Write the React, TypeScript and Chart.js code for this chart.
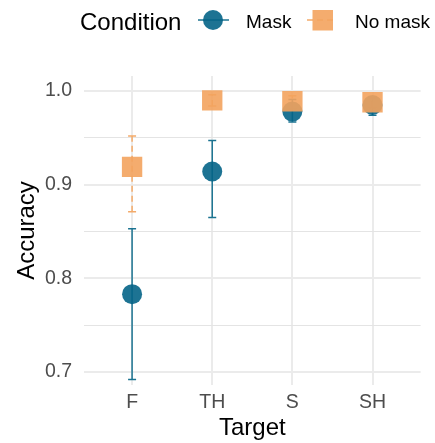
import React, { useEffect, useRef } from 'react';
import { Chart, registerables } from 'chart.js';

Chart.register(...registerables);

const categories = ['F', 'TH', 'S', 'SH'];
const maskMean = [0.783, 0.914, 0.978, 0.985];
const maskLow = [0.692, 0.865, 0.967, 0.974];
const maskHigh = [0.853, 0.947, 0.991, 0.993];
const noMaskMean = [0.919, 0.990, 0.989, 0.988];
const noMaskLow = [0.871, 0.984, 0.981, 0.982];
const noMaskHigh = [0.952, 0.996, 0.995, 0.993];
const yTicks = [0.7, 0.75, 0.8, 0.85, 0.9, 0.95, 1.0];

const FONT = "'Liberation Sans', Arial, Helvetica, sans-serif";
const MASK_COLOR = '#1B7391';
const NOMASK_COLOR = '#F4AA69';
const MASK_FILL = 'rgba(4,100,135,0.9)';
const NOMASK_FILL = 'rgba(243,163,94,0.9)';

const isMajor = (v: number) => Math.abs(v * 10 - Math.round(v * 10)) < 1e-6;

export default function App() {
  const ref = useRef<HTMLCanvasElement>(null);

  useEffect(() => {
    const canvas = ref.current;
    if (!canvas) return;

    const errorBarPlugin = {
      id: 'errorBars',
      beforeDatasetsDraw(chart: any) {
        const { ctx } = chart;
        const xs = chart.scales.x;
        const ys = chart.scales.y;
        const series = [
          { low: maskLow, high: maskHigh, color: MASK_COLOR, dash: [] as number[] },
          { low: noMaskLow, high: noMaskHigh, color: NOMASK_COLOR, dash: [6, 4] },
        ];
        ctx.save();
        series.forEach((s) => {
          ctx.strokeStyle = s.color;
          ctx.lineWidth = 1.5;
          s.low.forEach((lo, i) => {
            const x = xs.getPixelForValue(i);
            const y1 = ys.getPixelForValue(lo);
            const y2 = ys.getPixelForValue(s.high[i]);
            ctx.setLineDash(s.dash);
            ctx.beginPath();
            ctx.moveTo(x, y1);
            ctx.lineTo(x, y2);
            ctx.stroke();
            ctx.setLineDash([]);
            ctx.beginPath();
            ctx.moveTo(x - 4, y1);
            ctx.lineTo(x + 4, y1);
            ctx.moveTo(x - 4, y2);
            ctx.lineTo(x + 4, y2);
            ctx.stroke();
          });
        });
        ctx.restore();
      },
    };

    const legendPlugin = {
      id: 'customLegend',
      afterDraw(chart: any) {
        const { ctx } = chart;
        ctx.save();
        ctx.textBaseline = 'alphabetic';
        ctx.textAlign = 'left';
        ctx.fillStyle = '#000';
        ctx.font = `24px ${FONT}`;
        ctx.fillText('Condition', 80, 29.5);
        // Mask key
        ctx.strokeStyle = MASK_COLOR;
        ctx.lineWidth = 1.5;
        ctx.beginPath();
        ctx.moveTo(198, 20);
        ctx.lineTo(229, 20);
        ctx.stroke();
        ctx.fillStyle = MASK_FILL;
        ctx.beginPath();
        ctx.arc(213, 20, 10, 0, Math.PI * 2);
        ctx.fill();
        // No mask key
        ctx.strokeStyle = NOMASK_COLOR;
        ctx.setLineDash([6, 4]);
        ctx.beginPath();
        ctx.moveTo(307, 20);
        ctx.lineTo(337, 20);
        ctx.stroke();
        ctx.setLineDash([]);
        ctx.fillStyle = NOMASK_FILL;
        ctx.fillRect(312.5, 10, 20.5, 20.5);
        ctx.fillStyle = '#000';
        ctx.font = `19px ${FONT}`;
        ctx.fillText('Mask', 246, 27.5);
        ctx.fillText('No mask', 355, 27.5);
        ctx.restore();
      },
    };

    const chart = new Chart(canvas, {
      type: 'scatter',
      data: {
        datasets: [
          {
            label: 'No mask',
            data: noMaskMean.map((v, i) => ({ x: i, y: v })),
            pointStyle: 'rect',
            pointRadius: 14.4,
            pointHoverRadius: 14.4,
            backgroundColor: NOMASK_FILL,
            borderWidth: 0,
            order: 0,
          },
          {
            label: 'Mask',
            data: maskMean.map((v, i) => ({ x: i, y: v })),
            pointStyle: 'circle',
            pointRadius: 10,
            pointHoverRadius: 10,
            backgroundColor: MASK_FILL,
            borderWidth: 0,
            order: 1,
          },
        ],
      },
      options: {
        animation: false,
        responsive: false,
        events: [],
        layout: { padding: { top: 76, right: 9, left: 0, bottom: 0 } },
        plugins: {
          legend: { display: false },
          tooltip: { enabled: false },
        },
        scales: {
          x: {
            type: 'linear',
            min: -0.6,
            max: 3.6,
            afterBuildTicks: (s: any) => {
              s.ticks = categories.map((_, i) => ({ value: i }));
            },
            afterFit: (s: any) => {
              s.height = 58;
            },
            ticks: {
              callback: (v: any) => categories[Math.round(Number(v))],
              font: { size: 19.5, family: FONT },
              color: '#4d4d4d',
              padding: 6,
              autoSkip: false,
              maxRotation: 0,
            },
            grid: { color: '#ebebeb', lineWidth: 2, drawTicks: false },
            border: { display: false },
            title: {
              display: true,
              text: 'Target',
              font: { size: 24, family: FONT },
              color: '#000',
              padding: { top: 0, bottom: 0 },
            },
          },
          y: {
            type: 'linear',
            min: 0.686,
            max: 1.016,
            afterBuildTicks: (s: any) => {
              s.ticks = yTicks.map((v) => ({ value: v }));
            },
            afterFit: (s: any) => {
              s.width = 84;
            },
            ticks: {
              callback: (v: any) => (isMajor(Number(v)) ? Number(v).toFixed(1) : ''),
              font: { size: 19.5, family: FONT },
              color: '#4d4d4d',
              padding: 12,
            },
            grid: {
              color: (c: any) => (isMajor(c.tick.value) ? '#ebebeb' : '#e4e4e4'),
              lineWidth: (c: any) => (isMajor(c.tick.value) ? 2 : 1),
              drawTicks: false,
            },
            border: { display: false },
            title: {
              display: true,
              text: 'Accuracy',
              font: { size: 24, family: FONT },
              color: '#000',
              padding: { top: 13, bottom: 0 },
            },
          },
        },
      },
      plugins: [errorBarPlugin, legendPlugin],
    } as any);

    return () => chart.destroy();
  }, []);

  return (
    <div style={{ position: 'absolute', left: 0, top: 0, width: 435, height: 443 }}>
      <canvas ref={ref} width={435} height={443} style={{ display: 'block' }} />
    </div>
  );
}
